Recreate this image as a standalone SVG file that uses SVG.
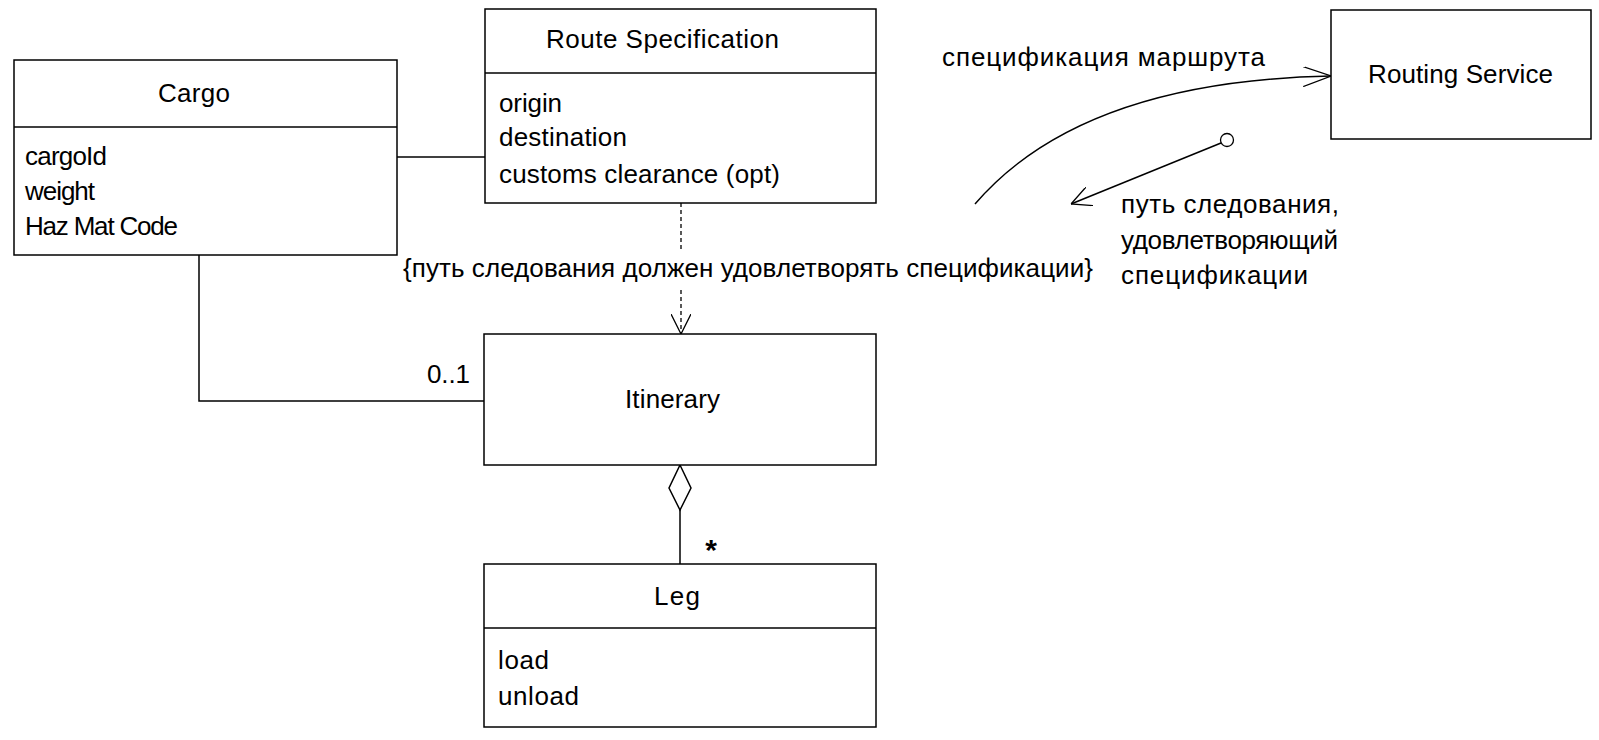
<svg xmlns="http://www.w3.org/2000/svg" width="1599" height="740" viewBox="0 0 1599 740">
<defs>
<style>
.box{fill:#fff;stroke:#000;stroke-width:1.5}
.ln{fill:none;stroke:#000;stroke-width:1.5}
.dash{fill:none;stroke:#000;stroke-width:1.3;stroke-dasharray:4 3}
text{font-family:"Liberation Sans","DejaVu Sans",sans-serif;font-size:26px;fill:#000}
.c{text-anchor:middle}
</style>
<marker id="open" viewBox="0 0 20 20" refX="20" refY="10" markerWidth="20" markerHeight="20" markerUnits="userSpaceOnUse" orient="auto">
<path d="M0,0 L20,10 L0,20" fill="none" stroke="#000" stroke-width="1.3"/>
</marker>
<marker id="openLong" viewBox="0 0 28 20" refX="28" refY="10" markerWidth="28" markerHeight="20" markerUnits="userSpaceOnUse" orient="auto">
<path d="M0,0 L28,10 L0,20" fill="none" stroke="#000" stroke-width="1.3"/>
</marker>
</defs>
<rect width="1599" height="740" fill="#fff"/>
<g id="connectors">
<line class="ln" x1="397" y1="157" x2="485" y2="157"/>
<polyline class="ln" points="199,255 199,401 484,401"/>
<text x="470" y="383" text-anchor="end" textLength="43" lengthAdjust="spacing">0..1</text>
<line class="dash" x1="681" y1="203" x2="681" y2="252"/>
<line class="dash" x1="681" y1="290" x2="681" y2="334" marker-end="url(#open)"/>
<text x="403" y="277" textLength="690" lengthAdjust="spacing">{путь следования должен удовлетворять спецификации}</text>
<path class="ln" d="M680,465 L691,488 L680,510 L669,488 Z"/>
<line class="ln" x1="680" y1="510" x2="680" y2="564"/>
<text x="711" y="560" class="c" style="font-size:30px;font-weight:bold">*</text>
<path class="ln" d="M975,204 C1030,140 1130,80 1331,76" marker-end="url(#openLong)"/>
<text x="942" y="66" textLength="323" lengthAdjust="spacing">спецификация маршрута</text>
<line class="ln" x1="1221" y1="143" x2="1071" y2="204" marker-end="url(#open)"/>
<circle cx="1227" cy="140" r="6.5" fill="#fff" stroke="#000" stroke-width="1.3"/>
<text x="1121" y="213" textLength="218" lengthAdjust="spacing">путь следования,</text>
<text x="1121" y="249" textLength="217" lengthAdjust="spacing">удовлетворяющий</text>
<text x="1121" y="284" textLength="187" lengthAdjust="spacing">спецификации</text>
</g>
<g id="cargo">
<rect class="box" x="14" y="60" width="383" height="195"/>
<line class="ln" x1="14" y1="127" x2="397" y2="127"/>
<text x="158" y="102" textLength="72" lengthAdjust="spacing">Cargo</text>
<text x="25" y="165" textLength="82" lengthAdjust="spacing">cargoId</text>
<text x="25" y="200" textLength="70" lengthAdjust="spacing">weight</text>
<text x="25" y="235" textLength="153" lengthAdjust="spacing">Haz Mat Code</text>
</g>
<g id="route-specification">
<rect class="box" x="485" y="9" width="391" height="194"/>
<line class="ln" x1="485" y1="73" x2="876" y2="73"/>
<text x="546" y="48" textLength="233" lengthAdjust="spacing">Route Specification</text>
<text x="499" y="112" textLength="63" lengthAdjust="spacing">origin</text>
<text x="499" y="146" textLength="128" lengthAdjust="spacing">destination</text>
<text x="499" y="183" textLength="281" lengthAdjust="spacing">customs clearance (opt)</text>
</g>
<g id="routing-service">
<rect class="box" x="1331" y="10" width="260" height="129"/>
<text x="1368" y="83" textLength="185" lengthAdjust="spacing">Routing Service</text>
</g>
<g id="itinerary">
<rect class="box" x="484" y="334" width="392" height="131"/>
<text x="625" y="408" textLength="95" lengthAdjust="spacing">Itinerary</text>
</g>
<g id="leg">
<rect class="box" x="484" y="564" width="392" height="163"/>
<line class="ln" x1="484" y1="628" x2="876" y2="628"/>
<text x="654" y="605" textLength="46" lengthAdjust="spacing">Leg</text>
<text x="498" y="669" textLength="51" lengthAdjust="spacing">load</text>
<text x="498" y="705" textLength="81" lengthAdjust="spacing">unload</text>
</g>
</svg>
